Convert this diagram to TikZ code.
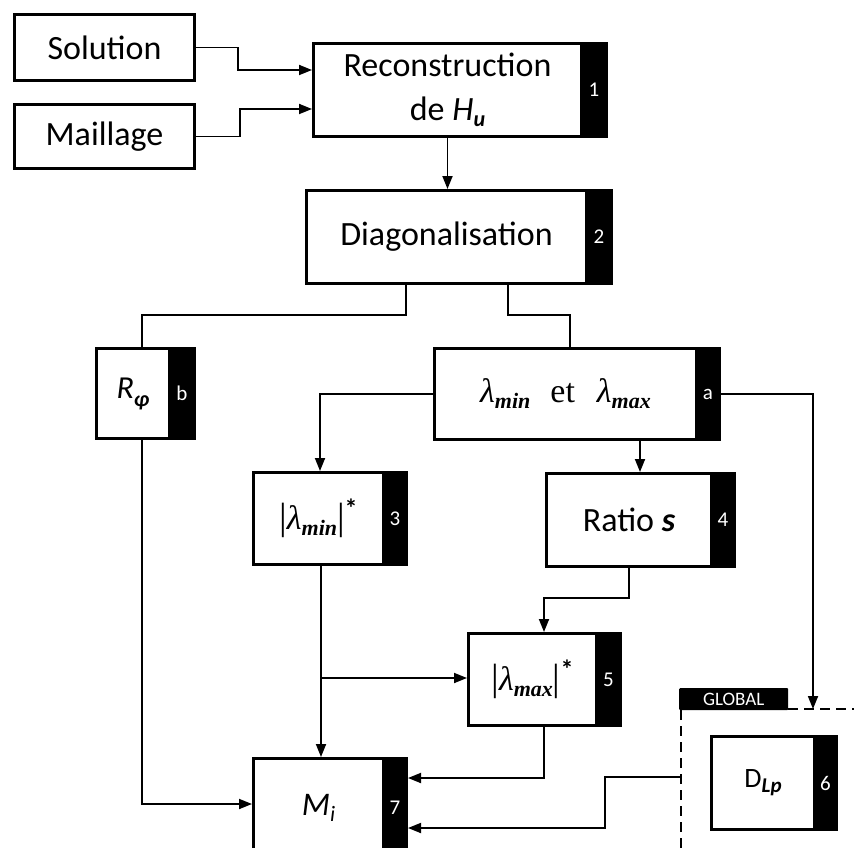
\documentclass[tikz,border=0pt]{standalone}
\usepackage{fontspec}
\setmainfont{Carlito}
\newfontfamily\tms{Liberation Serif}
\usetikzlibrary{arrows.meta}
\newcommand\sbs[3]{\raisebox{#1}{\fontsize{#2}{#2}\selectfont\bfseries\itshape #3}}
\newcommand\lam[1]{{\tms\fontsize{34}{34}\selectfont\itshape λ}\raisebox{-6pt}{\tms\fontsize{22}{22}\selectfont\bfseries\itshape #1}}
\newcommand\vbr{{\tms\fontsize{38}{38}\selectfont|}}
\newcommand\absl[1]{\vbr\lam{#1}\vbr\raisebox{12pt}{\fontsize{26}{26}\selectfont\bfseries *}}
\newcommand\tbox[8]{%
  \node[tabst, minimum width={#6-#4}, minimum height={#5-#3}] (#1t) at (#4,#3) {#7};
  \node[boxst, minimum width={#4-#2}, minimum height={#5-#3}] (#1) at (#2,#3) {#8};
}
\tikzset{
  boxst/.style={draw=black, fill=white, line width=3pt, inner sep=0pt, anchor=north west,
    font=\fontsize{34}{44}\selectfont, align=center},
  tabst/.style={draw=black, fill=black, line width=3pt, inner sep=0pt, anchor=north west,
    text=white, font=\fontsize{21}{21}\selectfont},
  ln/.style={line width=1.8pt},
  arr/.style={ln, -{Triangle[length=13pt,width=10pt]}},
  dsh/.style={line width=1.6pt, dash pattern=on 10pt off 6pt},
  glabel/.style={fill=black, text=white, inner sep=0pt, anchor=north west, rounded corners=1pt,
    minimum width=109, minimum height=22, font=\fontsize{19}{19}\selectfont},
}
\begin{document}
\begin{tikzpicture}[x=1pt, y=-1pt]
\useasboundingbox (0,0) rectangle (854,848);
\clip (0,0) rectangle (854,848);
% input boxes
\node[boxst, minimum width=180, minimum height=66] (sol) at (13,13) {Solution};
\node[boxst, minimum width=180, minimum height=64] (mai) at (13,103) {Maillage};
% process boxes
\tbox{n1}{312}{42}{580}{135}{605}{1}{Reconstruction\\de {\itshape H}\sbs{-6pt}{22}{u}}
\tbox{n2}{305}{189}{585}{282}{610}{2}{Diagonalisation}
\tbox{nb}{95}{347}{168}{437}{193}{b}{{\fontsize{32}{32}\selectfont\itshape R}\sbs{-8pt}{22}{φ}}
\tbox{na}{433}{347}{695}{438}{718}{a}{\lam{min}\hspace{20pt}{\tms\fontsize{34}{34}\selectfont et}\hspace{22pt}\lam{max}}
\tbox{n3}{252}{471}{382}{563}{405}{3}{\absl{min}}
\tbox{n4}{545}{472}{710}{565}{733}{4}{Ratio\ {\bfseries\itshape s}}
\tbox{n5}{467}{632}{595}{724}{619}{5}{\absl{max}}
\tbox{n6}{710}{735}{813}{828}{835}{6}{{\fontsize{28}{28}\selectfont D}\sbs{-5pt}{21}{Lp}}
\tbox{n7}{252}{757}{382}{855}{405}{7}{{\fontsize{33}{33}\selectfont\itshape M}\raisebox{-6pt}{\fontsize{22}{22}\selectfont\itshape i}}
% global region
\node[glabel] (glob) at (679,688) {GLOBAL};
\coordinate (gtop) at (813,709);
\coordinate (gleft) at (681,777);
\draw[dsh] (glob.south east |- 0,709) -- (854,709);
\draw[dsh] (glob.south west -| 681,0) -- (681,848);
% connectors
\draw[arr] (sol.east) -| (238,70) -- (n1.west |- 0,70);
\draw[arr] (mai.east) -| (240,109) -- (n1.west |- 0,109);
\draw[arr] (n1.south) -- (n1.south |- n2.north);
\draw[ln] (n2.south -| 406,0) |- (142,315) -- (nb.north -| 142,0);
\draw[ln] (n2.south -| 508,0) |- (570,315) -- (na.north -| 570,0);
\draw[arr] (na.west) -| (n3.north -| 320,0);
\draw[arr] (na.south -| 640,0) -- (n4.north -| 640,0);
\draw[arr] (n4.south -| 629,0) |- (544,598) -- (n5.north -| 544,0);
\draw[arr] (n3.south -| 321,0) -- (n7.north -| 321,0);
\draw[arr] (321,678) -- (n5.west |- 0,678);
\draw[arr] (n5.south -| 544,0) |- (n7t.east |- 0,778);
\draw[arr] (nb.south -| 142,0) |- (n7.west |- 0,804);
\draw[arr] (nat.east) -| (gtop);
\draw[arr] (gleft) -| (605,828) -- (n7t.east |- 0,828);
\end{tikzpicture}
\end{document}
